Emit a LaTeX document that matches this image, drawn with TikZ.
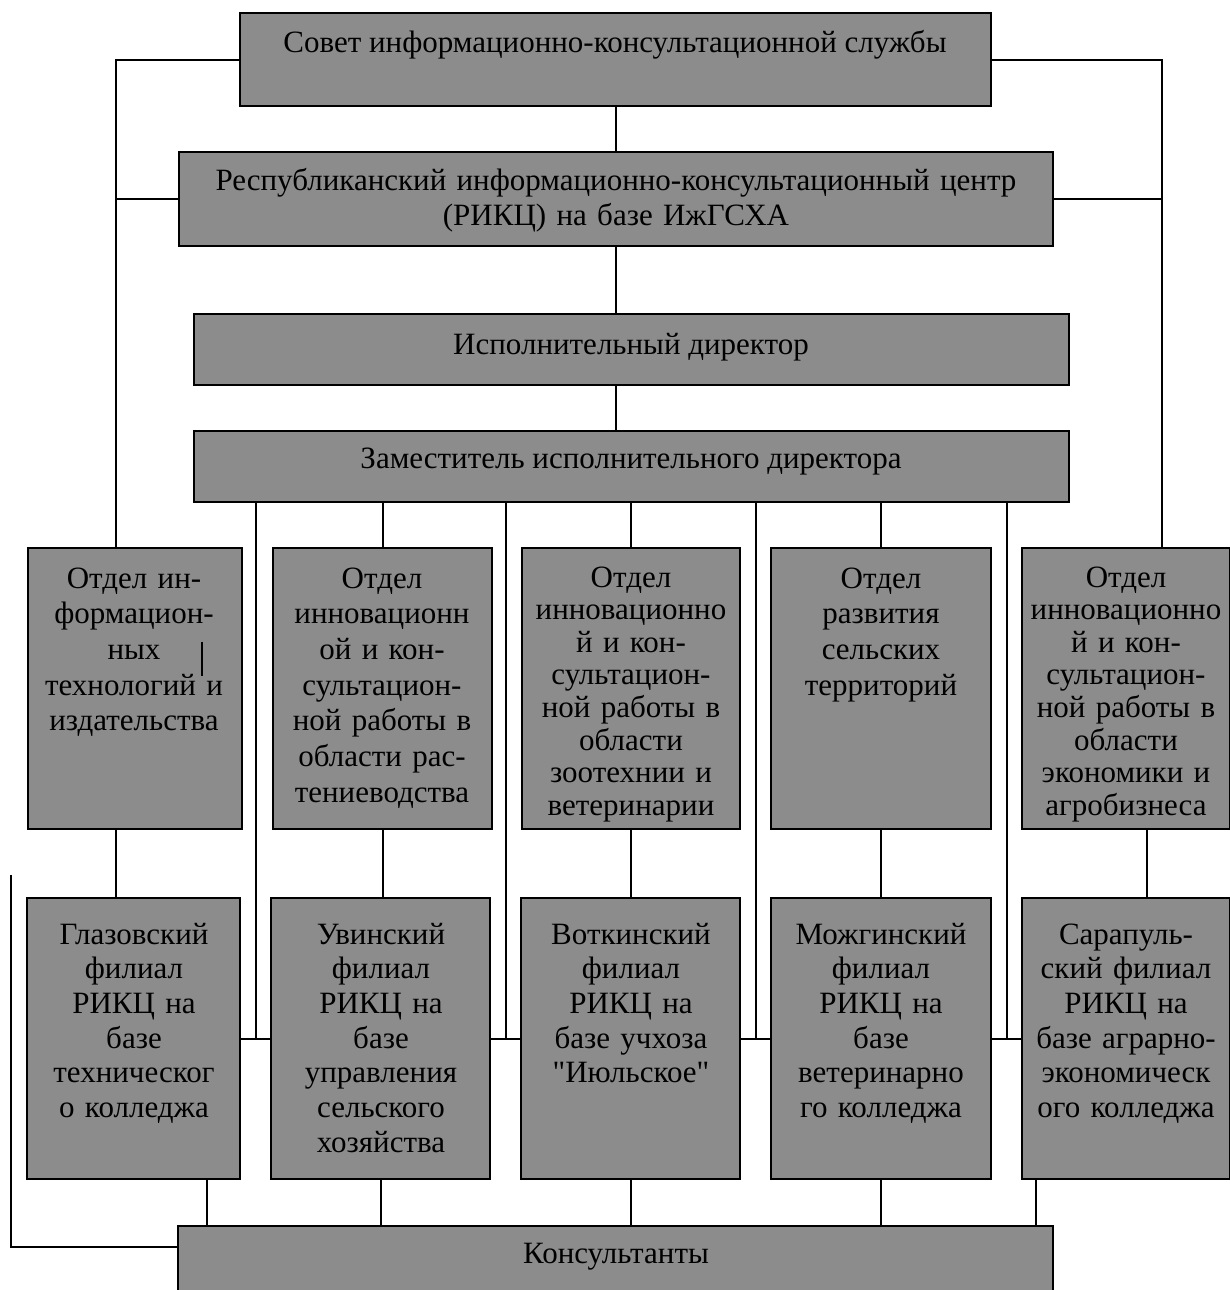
\documentclass[tikz,border=0pt]{standalone}
\usepackage{fontspec}
\setmainfont{Liberation Serif}
\usetikzlibrary{fit,calc}
\tikzset{
  box/.style={draw=black, line width=1.3pt, fill=black!45, inner sep=0pt},
  txt/.style={font=\fontsize{15.5}{17.85}\selectfont, align=center, text width=130pt, inner sep=0pt, anchor=base},
  txtn/.style={txt, font=\fontsize{15.5}{16.3}\selectfont},
  txtf/.style={txt, font=\fontsize{15.5}{17.35}\selectfont},
  one/.style={font=\fontsize{15.5}{17.85}\selectfont, inner sep=0pt, anchor=base},
  wire/.style={line width=1pt, draw=black}
}
\begin{document}
\begin{tikzpicture}[x=0.5pt,y=-0.5pt]
\useasboundingbox[fill=white] (0,0) rectangle (1230,1290);
% boxes
\node[box, fit={(240,13)(991,106)}] (sovet) {};
\node[box, fit={(179,152)(1053,246)}] (rikc) {};
\node[box, fit={(194,314)(1069,385)}] (isp) {};
\node[box, fit={(194,431)(1069,502)}] (zam) {};
\node[box, fit={(28,548)(242,829)}] (d1) {};
\node[box, fit={(273,548)(492,829)}] (d2) {};
\node[box, fit={(522,548)(740,829)}] (d3) {};
\node[box, fit={(771,548)(991,829)}] (d4) {};
\node[box, fit={(1022,548)(1230,829)}] (d5) {};
\node[box, fit={(27,898)(240,1179)}] (f1) {};
\node[box, fit={(271,898)(490,1179)}] (f2) {};
\node[box, fit={(521,898)(740,1179)}] (f3) {};
\node[box, fit={(771,898)(991,1179)}] (f4) {};
\node[box, fit={(1022,898)(1230,1179)}] (f5) {};
\node[box, fit={(178,1226)(1053,1294)}] (kons) {};
% texts
\node[one] (sovetT) at (615,52) {Совет информационно-консультационной службы};
\node[txt, text width=440pt] (rikcT) at (616,190) {Республиканский информационно-консультационный центр\\(РИКЦ) на базе ИжГСХА};
\node[one] (ispT) at (631,354) {Исполнительный директор};
\node[one] (zamT) at (631,468) {Заместитель исполнительного директора};
\node[txt] (d1T) at (134,588) {Отдел ин-\\формацион-\\ных\\технологий и\\издательства};
\node[txt] (d2T) at (382,588) {Отдел\\инновационн\\ой и кон-\\сультацион-\\ной работы в\\области рас-\\тениеводства};
\node[txtn] (d3T) at (631,587) {Отдел\\инновационно\\й и кон-\\сультацион-\\ной работы в\\области\\зоотехнии и\\ветеринарии};
\node[txt] (d4T) at (881,588) {Отдел\\развития\\сельских\\территорий};
\node[txtn] (d5T) at (1126,587) {Отдел\\инновационно\\й и кон-\\сультацион-\\ной работы в\\области\\экономики и\\агробизнеса};
\node[txtf] (f1T) at (134,944) {Глазовский\\филиал\\РИКЦ на\\базе\\техническог\\о колледжа};
\node[txtf] (f2T) at (381,944) {Увинский\\филиал\\РИКЦ на\\базе\\управления\\сельского\\хозяйства};
\node[txtf] (f3T) at (631,944) {Воткинский\\филиал\\РИКЦ на\\базе учхоза\\{\addfontfeatures{Ligatures=TeXOff}"Июльское"}};
\node[txtf] (f4T) at (881,944) {Можгинский\\филиал\\РИКЦ на\\базе\\ветеринарно\\го колледжа};
\node[txtf] (f5T) at (1126,944) {Сарапуль-\\ский филиал\\РИКЦ на\\базе аграрно-\\экономическ\\ого колледжа};
\node[one] (konsT) at (616,1263) {Консультанты};
% stray mark in d1
\draw[line width=0.9pt] ($(d1.north west)+(175,95)$) -- ++(0,34);
% attachment points
\coordinate (LT) at ($(d1.north west)+(89,0)$);
\coordinate (RT) at ($(d5.north west)+(141,0)$);
\coordinate (LB) at ($(d1.south west)+(89,0)$);
\coordinate (RB) at ($(d5.south west)+(126,0)$);
\coordinate (j12) at ($(f1.east)!0.5!(f2.west)$);
\coordinate (j23) at ($(f2.east)!0.5!(f3.west)$);
\coordinate (j34) at ($(f3.east)!0.5!(f4.west)$);
\coordinate (j45) at ($(f4.east)!0.5!(f5.west)$);
\coordinate (k1) at ($(f1.south west)+(181,0)$);
\coordinate (k5) at ($(f5.south west)+(15,0)$);
\coordinate (brTop) at (11,875);
% trunks
\draw[wire] (sovet.west) -| (LT);
\draw[wire] (rikc.west) -- (rikc.west -| LT);
\draw[wire] ($(isp.west)+(0,11)$) -- ($(isp.west)+(0,11)$ -| LT);
\draw[wire] ($(zam.west)+(0,11)$) -- ($(zam.west)+(0,11)$ -| LT);
\draw[wire] (sovet.east) -| (RT);
\draw[wire] (rikc.east) -- (rikc.east -| RT);
\draw[wire] ($(isp.east)+(0,11)$) -- ($(isp.east)+(0,11)$ -| RT);
\draw[wire] ($(zam.east)+(0,11)$) -- ($(zam.east)+(0,11)$ -| RT);
% central
\draw[wire] (sovet.south) -- (sovet.south |- rikc.north);
\draw[wire] (rikc.south) -- (rikc.south |- isp.north);
\draw[wire] (rikc.south |- isp.south) -- (rikc.south |- zam.north);
% zam to depts
\draw[wire] (d3.north |- zam.south) -- (d3.north);
\draw[wire] (d2.north |- zam.south) -- (d2.north);
\draw[wire] (d4.north |- zam.south) -- (d4.north);
% zam to filial junctions
\draw[wire] (j12 |- zam.south) -- (j12);
\draw[wire] (j23 |- zam.south) -- (j23);
\draw[wire] (j34 |- zam.south) -- (j34);
\draw[wire] (j45 |- zam.south) -- (j45);
\draw[wire] (f1.east) -- (f2.west);
\draw[wire] (f2.east) -- (f3.west);
\draw[wire] (f3.east) -- (f4.west);
\draw[wire] (f4.east) -- (f5.west);
% depts to filials
\draw[wire] (LB) -- (LB |- f1.north);
\draw[wire] (d2.south) -- (d2.south |- f2.north);
\draw[wire] (d3.south) -- (d3.south |- f3.north);
\draw[wire] (d4.south) -- (d4.south |- f4.north);
\draw[wire] (RB) -- (RB |- f5.north);
% filials to consultants
\draw[wire] (k1) -- (k1 |- kons.north);
\draw[wire] (f2.south) -- (f2.south |- kons.north);
\draw[wire] (f3.south) -- (f3.south |- kons.north);
\draw[wire] (f4.south) -- (f4.south |- kons.north);
\draw[wire] (k5) -- (k5 |- kons.north);
% bracket
\draw[wire] (brTop) |- ($(kons.north west)+(0,22)$);
\end{tikzpicture}
\end{document}
